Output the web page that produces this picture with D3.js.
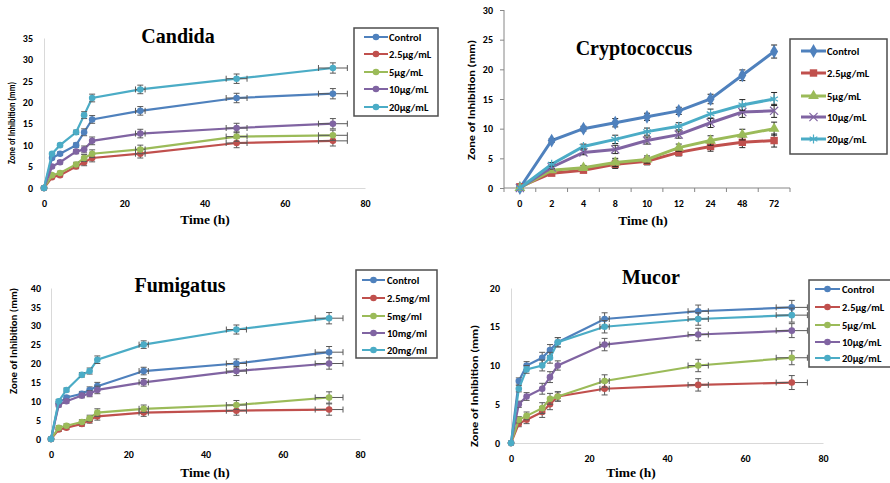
<!DOCTYPE html>
<html>
<head>
<meta charset="utf-8">
<script src="https://cdn.jsdelivr.net/npm/d3@7"></script>
<style>
  html, body { margin: 0; padding: 0; background: #fff; }
  svg { display: block; }
  .tick text { font-family: Carlito, "Open Sans", sans-serif; font-weight: bold; font-size: 10px; fill: #000; }
</style>
</head>
<body>
<svg id="chart" width="890" height="483"></svg>
<script>
// ---------------- DATA ----------------
const times = [0, 2, 4, 8, 10, 12, 24, 48, 72];
const timeLabels = ["0", "2", "4", "8", "10", "12", "24", "48", "72"];
const seriesNamesUg = ["Control", "2.5μg/mL", "5μg/mL", "10μg/mL", "20μg/mL"];
const seriesNamesMg = ["Control", "2.5mg/ml", "5mg/ml", "10mg/ml", "20mg/ml"];
const colors = ["#4F81BD", "#C0504D", "#9BBB59", "#8064A2", "#4BACC6"];

// Candida
const candidaControl = [0, 7, 8, 10, 13, 16, 18, 21, 22];
const candida2_5 = [0, 2.5, 3, 5, 6, 7, 8, 10.5, 11];
const candida5 = [0, 3, 3.5, 5.5, 7, 8, 9, 12, 12.3];
const candida10 = [0, 5, 6, 8.5, 9, 11, 12.7, 14, 15];
const candida20 = [0, 8, 10, 13, 17, 21, 23, 25.5, 28];
const candidaYErr = [0, 0.3, 0.4, 0.5, 0.8, 0.9, 1.0, 1.1, 1.2];
const candidaXErr = [0, 0, 0, 0, 0, 0, 1.2, 2.6, 3.6];
const candidaYTicks = [0, 5, 10, 15, 20, 25, 30, 35];
const linearXTicks = [0, 20, 40, 60, 80];

// Cryptococcus
const cryptoControl = [0, 8, 10, 11, 12, 13, 15, 19, 23];
const crypto2_5 = [0.2, 2.5, 3, 4, 4.5, 6, 7, 7.7, 8];
const crypto5 = [0, 3, 3.4, 4.3, 4.8, 6.8, 8, 9, 10];
const crypto10 = [0, 3.5, 6, 6.5, 8, 9, 11, 12.8, 13];
const crypto20 = [0, 4, 7, 8.2, 9.5, 10.4, 12.5, 14, 15];
const cryptoYErr = [0, 0.3, 0.4, 0.7, 0.6, 0.6, 0.8, 0.9, 1.1];
const cryptoYTicks = [0, 5, 10, 15, 20, 25, 30];

// Fumigatus
const fumiControl = [0, 9.5, 11, 12, 13, 14, 18, 20, 23];
const fumi2_5 = [0, 2.5, 3, 4, 5, 6, 7, 7.5, 7.8];
const fumi5 = [0, 3, 3.5, 4.5, 5.5, 7, 8, 9, 11];
const fumi10 = [0, 9, 10, 11.5, 12, 13, 15, 18, 20];
const fumi20 = [0, 10, 13, 17, 18, 21, 25, 29, 32];
const fumiYErr = [0, 0.5, 0.5, 0.6, 0.8, 1.0, 1.0, 1.2, 1.5];
const fumiXErr = [0, 0, 0, 0, 0, 0, 1.2, 2.6, 3.6];
const fumiYTicks = [0, 5, 10, 15, 20, 25, 30, 35, 40];

// Mucor
const mucorControl = [0, 8, 10, 11, 12, 13, 16, 17, 17.5];
const mucor2_5 = [0, 2.5, 3, 4, 5, 6, 7, 7.5, 7.8];
const mucor5 = [0, 3, 3.5, 4.5, 5.7, 6, 8, 10, 11];
const mucor10 = [0, 5, 6, 7, 8.5, 10, 12.7, 14, 14.5];
const mucor20 = [0, 7, 9.5, 10, 11, 13, 15, 16, 16.5];
const mucorYErr = [0, 0.4, 0.5, 0.7, 0.7, 0.6, 0.8, 0.8, 0.9];
const mucorXErr = [0, 0, 0, 0, 0, 0, 1.2, 2.6, 4.0];
const mucorYTicks = [0, 5, 10, 15, 20];

// ---------------- DRAW ----------------
const svg = d3.select("#chart");
const errColor = "#595959";

function drawTitle(g, text, x, y) {
  g.append("text").attr("x", x).attr("y", y).attr("text-anchor", "middle")
    .style("font-family", "'Liberation Serif', 'Times New Roman', serif")
    .style("font-weight", "bold").style("font-size", "20px").text(text);
}
function drawXLabel(g, x, y) {
  g.append("text").attr("x", x).attr("y", y).attr("text-anchor", "middle")
    .style("font-family", "'Liberation Serif', 'Times New Roman', serif")
    .style("font-weight", "bold").style("font-size", "13.5px").text("Time (h)");
}
function drawYLabel(g, x, y, len) {
  g.append("text").attr("transform", `translate(${x},${y}) rotate(-90)`)
    .attr("text-anchor", "middle").attr("dy", "0.35em")
    .attr("textLength", len).attr("lengthAdjust", "spacingAndGlyphs")
    .style("font-family", "Carlito, 'Open Sans', sans-serif")
    .style("font-weight", "bold").style("font-size", "9.5px")
    .text("Zone of Inhibition (mm)");
}
function drawLegend(g, cfg, names, symbolFns, lineW) {
  const lg = g.append("g");
  lg.append("rect").attr("x", cfg.x).attr("y", cfg.y).attr("width", cfg.w).attr("height", cfg.h)
    .attr("fill", "#fff").attr("stroke", "#4d4d4d").attr("stroke-width", 1.5);
  names.forEach((n, i) => {
    const yy = cfg.rows[i];
    lg.append("line").attr("x1", cfg.lx1).attr("x2", cfg.lx2).attr("y1", yy).attr("y2", yy)
      .attr("stroke", colors[i]).attr("stroke-width", lineW);
    symbolFns(lg, (cfg.lx1 + cfg.lx2) / 2, yy, i);
    lg.append("text").attr("x", cfg.tx).attr("y", yy).attr("dy", "0.35em")
      .style("font-family", "Carlito, 'Open Sans', sans-serif")
      .style("font-weight", "bold").style("font-size", "10.5px").text(n);
  });
}
function circleMarker(g, x, y, i) {
  g.append("circle").attr("cx", x).attr("cy", y).attr("r", 3.3).attr("fill", colors[i]);
}

function drawLinearPanel(p) {
  const g = svg.append("g");
  const x = d3.scaleLinear().domain([0, 80]).range([p.x0, p.x1]);
  const y = d3.scaleLinear().domain([0, p.ymax]).range([p.y0, p.y1]);

  const ya = g.append("g").attr("transform", `translate(${p.x0},0)`)
    .call(d3.axisLeft(y).tickValues(p.yTicks).tickSize(0).tickPadding(p.yPad));
  ya.select(".domain").attr("stroke", "#d9d9d9");
  const xa = g.append("g").attr("transform", `translate(0,${p.y0})`)
    .call(d3.axisBottom(x).tickValues(linearXTicks).tickSize(0).tickPadding(p.xPad));
  xa.select(".domain").attr("stroke", "#d9d9d9");

  p.series.forEach((vals, si) => {
    const pts = times.map((t, k) => ({ t, v: vals[k], ye: p.yErr[k], xe: p.xErr[k] }));
    g.append("path").datum(pts)
      .attr("d", d3.line().x(d => x(d.t)).y(d => y(d.v)))
      .attr("fill", "none").attr("stroke", colors[si]).attr("stroke-width", 2.2);
    const eb = g.append("g").attr("stroke", errColor).attr("stroke-width", 1);
    pts.forEach(d => {
      if (d.ye > 0) {
        eb.append("line").attr("x1", x(d.t)).attr("x2", x(d.t)).attr("y1", y(d.v - d.ye)).attr("y2", y(d.v + d.ye));
        [d.v - d.ye, d.v + d.ye].forEach(v => eb.append("line").attr("x1", x(d.t) - 3).attr("x2", x(d.t) + 3).attr("y1", y(v)).attr("y2", y(v)));
      }
      if (d.xe > 0) {
        eb.append("line").attr("x1", x(d.t - d.xe)).attr("x2", x(d.t + d.xe)).attr("y1", y(d.v)).attr("y2", y(d.v));
        [d.t - d.xe, d.t + d.xe].forEach(t => eb.append("line").attr("x1", x(t)).attr("x2", x(t)).attr("y1", y(d.v) - 3).attr("y2", y(d.v) + 3));
      }
    });
    pts.forEach(d => circleMarker(g, x(d.t), y(d.v), si));
  });

  drawTitle(g, p.title, p.titleX, p.titleY);
  drawXLabel(g, p.xlabX, p.xlabY);
  drawYLabel(g, p.ylabX, p.ylabY, p.ylabLen);
  drawLegend(g, p.legend, p.names, circleMarker, 2);
}

// Candida
drawLinearPanel({
  title: "Candida", titleX: 178, titleY: 43,
  x0: 44, x1: 365, y0: 188, y1: 38, ymax: 35, yTicks: candidaYTicks, yPad: 11, xPad: 12,
  series: [candidaControl, candida2_5, candida5, candida10, candida20],
  yErr: candidaYErr, xErr: candidaXErr, names: seriesNamesUg,
  xlabX: 205, xlabY: 224, ylabX: 12, ylabY: 123, ylabLen: 82,
  legend: { x: 354, y: 28, w: 84, h: 88, lx1: 364, lx2: 388, tx: 389, rows: [37, 54, 72, 89, 107] }
});

// Fumigatus
drawLinearPanel({
  title: "Fumigatus", titleX: 180, titleY: 292,
  x0: 51, x1: 360, y0: 439, y1: 288, ymax: 40, yTicks: fumiYTicks, yPad: 10, xPad: 12,
  series: [fumiControl, fumi2_5, fumi5, fumi10, fumi20],
  yErr: fumiYErr, xErr: fumiXErr, names: seriesNamesMg,
  xlabX: 205, xlabY: 477, ylabX: 14, ylabY: 341, ylabLen: 106,
  legend: { x: 356, y: 270, w: 81, h: 88, lx1: 362, lx2: 385, tx: 387, rows: [280, 298, 316, 333, 350] }
});

// Mucor
drawLinearPanel({
  title: "Mucor", titleX: 651, titleY: 284,
  x0: 511, x1: 823, y0: 443, y1: 288, ymax: 20, yTicks: mucorYTicks, yPad: 11, xPad: 12,
  series: [mucorControl, mucor2_5, mucor5, mucor10, mucor20],
  yErr: mucorYErr, xErr: mucorXErr, names: seriesNamesUg.map(s => s.replace("μ", "µ")),
  xlabX: 631, xlabY: 477, ylabX: 475, ylabY: 386, ylabLen: 122,
  legend: { x: 809, y: 280, w: 90, h: 87, lx1: 815, lx2: 840, tx: 842, rows: [289, 307, 325, 342, 358] }
});

// Cryptococcus (categorical x)
(function () {
  const g = svg.append("g");
  const x = d3.scaleBand().domain(timeLabels).range([504, 790]).padding(0);
  const y = d3.scaleLinear().domain([0, 30]).range([188, 10]);
  const axisColor = "#868686";
  const ya = g.append("g").attr("transform", "translate(504,0)")
    .call(d3.axisLeft(y).tickValues(cryptoYTicks).tickSize(4).tickPadding(7));
  ya.selectAll("line, .domain").attr("stroke", axisColor);
  ya.select(".domain").attr("d", "M0,188V10");
  const xa = g.append("g").attr("transform", "translate(0,188)")
    .call(d3.axisBottom(x).tickSize(0).tickPadding(12));
  xa.select(".domain").attr("stroke", axisColor).attr("d", "M504,0H790");
  const bounds = d3.range(timeLabels.length + 1).map(i => 504 + i * x.step());
  xa.selectAll(".btick").data(bounds).join("line").attr("class", "btick")
    .attr("x1", d => d).attr("x2", d => d).attr("y1", 0).attr("y2", 4).attr("stroke", axisColor);

  const series = [cryptoControl, crypto2_5, crypto5, crypto10, crypto20];
  const symTypes = [d3.symbolDiamond, d3.symbolSquare, d3.symbolTriangle, d3.symbolTimes, d3.symbolAsterisk];
  const symSizes = [55, 55, 50, 45, 55];
  function cryptoMarker(gg, cx, cy, i) {
    const stroked = i >= 3;
    gg.append("path").attr("transform", `translate(${cx},${cy})`)
      .attr("d", d3.symbol().type(symTypes[i]).size(symSizes[i])())
      .attr("fill", stroked ? "none" : colors[i])
      .attr("stroke", stroked ? colors[i] : "none").attr("stroke-width", 1.2);
  }
  const cx = t => x(t) + x.bandwidth() / 2;
  series.forEach((vals, si) => {
    const pts = timeLabels.map((t, k) => ({ t, v: vals[k], ye: cryptoYErr[k] }));
    g.append("path").datum(pts)
      .attr("d", d3.line().x(d => cx(d.t)).y(d => y(d.v)))
      .attr("fill", "none").attr("stroke", colors[si]).attr("stroke-width", 3);
    const eb = g.append("g").attr("stroke", "#262626").attr("stroke-width", 1);
    pts.forEach(d => {
      if (d.ye > 0) {
        eb.append("line").attr("x1", cx(d.t)).attr("x2", cx(d.t)).attr("y1", y(d.v - d.ye)).attr("y2", y(d.v + d.ye));
        [d.v - d.ye, d.v + d.ye].forEach(v => eb.append("line").attr("x1", cx(d.t) - 3).attr("x2", cx(d.t) + 3).attr("y1", y(v)).attr("y2", y(v)));
      }
    });
    pts.forEach(d => cryptoMarker(g, cx(d.t), y(d.v), si));
  });

  drawTitle(g, "Cryptococcus", 634, 55);
  drawXLabel(g, 643, 225);
  drawYLabel(g, 472, 100, 120);
  drawLegend(g, { x: 790, y: 39, w: 97, h: 115, lx1: 801, lx2: 826, tx: 827, rows: [51, 73, 96, 117, 139] },
    seriesNamesUg, cryptoMarker, 3);
})();
</script>
</body>
</html>
